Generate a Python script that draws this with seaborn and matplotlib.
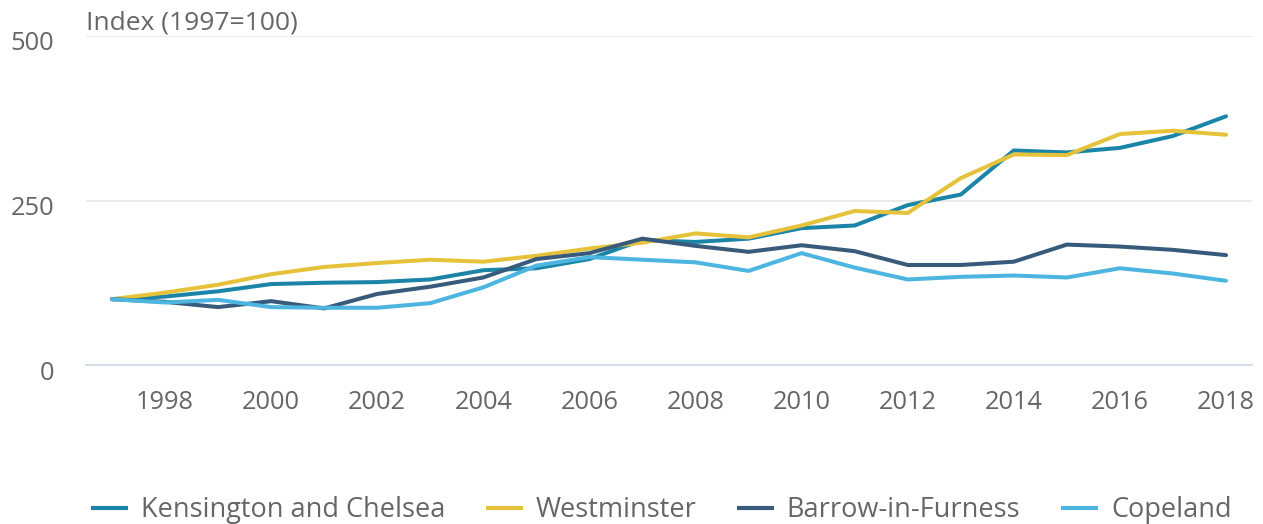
import numpy as np
import pandas as pd
import seaborn as sns
import matplotlib.pyplot as plt
import matplotlib.transforms as mtransforms
from matplotlib.lines import Line2D

# data (index, 1997 = 100)
YEARS = list(range(1997, 2019))
KENSINGTON = [100, 104, 112, 123, 125, 126, 130, 144, 147, 161, 190, 187, 192, 208, 212, 243, 259, 326, 323, 330, 348, 378]
WESTMINSTER = [100, 110, 122, 138, 149, 155, 160, 157, 166, 177, 186, 200, 194, 212, 234, 231, 284, 320, 319, 351, 356, 350]
BARROW = [100, 96, 88, 97, 86, 108, 119, 133, 161, 170, 192, 181, 172, 182, 173, 152, 152, 157, 183, 180, 175, 167]
COPELAND = [100, 95, 99, 88, 87, 87, 94, 118, 151, 164, 160, 156, 143, 170, 148, 130, 134, 136, 133, 147, 139, 128]

SERIES = ["Kensington and Chelsea", "Westminster", "Barrow-in-Furness", "Copeland"]
COLORS = ["#1b85a8", "#e6c23a", "#385b7c", "#4cb6e0"]
XTICKS = list(range(1998, 2019, 2))
YTICKS = [0, 250, 500]

sns.set_theme(style="white")
plt.rcParams['font.family'] = ['Open Sans', 'DejaVu Sans']

df = pd.DataFrame({
    "year": YEARS * 4,
    "value": KENSINGTON + WESTMINSTER + BARROW + COPELAND,
    "area": [s for s in SERIES for _ in YEARS],
})

fig = plt.figure(figsize=(12.63, 5.24), dpi=100)
ax = fig.add_axes([86 / 1263, 1 - 365 / 524, (1252 - 86) / 1263, (365 - 36) / 524])

sns.lineplot(data=df, x="year", y="value", hue="area", hue_order=SERIES,
             palette=COLORS, linewidth=2.9, ax=ax, legend=False, zorder=3)

ax.set_xlim(1996.51, 2018.49)
ax.set_ylim(0, 500)
ax.set_xticks(XTICKS)
ax.set_yticks(YTICKS)
ax.set_xticklabels([str(t) for t in XTICKS])
ax.set_yticklabels([str(t) for t in YTICKS])
ax.set_xlabel(None)
ax.set_ylabel(None)

for s in ["top", "right", "left"]:
    ax.spines[s].set_visible(False)
ax.spines["bottom"].set_color("#ccd6eb")
ax.spines["bottom"].set_linewidth(1.2)

ax.grid(axis='y', color='#e6e6e6', linewidth=1.2, zorder=0)
ax.grid(axis='x', visible=False)
ax.tick_params(axis='x', colors='#ccd6eb', length=7, width=1.0, pad=11,
               labelcolor='#666666', labelsize=18.3)
ax.tick_params(axis='y', length=0, pad=23, labelcolor='#666666', labelsize=18.3)

# y labels sit a little below their gridlines in the reference
shift = mtransforms.ScaledTranslation(0, -5 / 100, fig.dpi_scale_trans)
for lab in ax.get_yticklabels():
    lab.set_transform(lab.get_transform() + shift)

ax.text(0, 1.0, "Index (1997=100)", transform=ax.transAxes, ha='left', va='bottom',
        fontsize=19, color='#666666')

handles = [Line2D([0], [0], color=c, linewidth=3, solid_capstyle='butt') for c in COLORS]
fig.legend(handles, SERIES, loc='center', bbox_to_anchor=(0.5235, 0.026), ncol=4,
           frameon=False, fontsize=19.5, handlelength=1.37, handletextpad=0.47,
           columnspacing=1.5, labelcolor='#666666')

fig.savefig("out.png", dpi=100)
